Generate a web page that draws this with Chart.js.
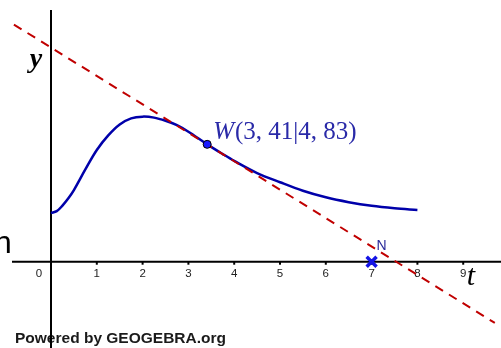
<!DOCTYPE html>
<html><head><meta charset="utf-8">
<script src="https://cdn.jsdelivr.net/npm/chart.js@4"></script>
<style>html,body{margin:0;padding:0;background:#fff}</style>
</head><body>
<canvas id="c" width="501" height="348"></canvas>
<script>
// curve f(t)
const curveT = [0, 0.125, 0.25, 0.375, 0.5, 0.75, 1, 1.25, 1.5, 1.75, 2, 2.25, 2.5, 2.75, 3, 3.41, 3.75, 4, 4.5, 5, 5.5, 6, 6.5, 7, 7.5, 8];
const curveY = [2.0, 2.08, 2.31, 2.6, 2.95, 3.8, 4.6, 5.2, 5.65, 5.9, 5.97, 5.93, 5.8, 5.62, 5.35, 4.83, 4.43, 4.15, 3.65, 3.27, 2.92, 2.65, 2.45, 2.3, 2.2, 2.13];
// tangent at W
const tangentT = [-0.81, 9.69];
const tangentY = [9.76, -2.52];
// labelled points
const pointW = {t: 3.41, y: 4.83, label: "W(3, 41|4, 83)"};
const pointN = {t: 7, y: 0, label: "N"};
// axis ticks
const xTicks = [0, 1, 2, 3, 4, 5, 6, 7, 8, 9];
const xRange = [-1.1135, 9.825];
const yRange = [-3.551, 10.77];

const toXY = (ts, ys) => ts.map((t, i) => ({x: t, y: ys[i]}));

const axesPlugin = {
  id: 'ggbAxes',
  beforeDatasetsDraw(chart) {
    const {ctx, scales: {x, y}} = chart;
    const x0 = x.getPixelForValue(0), y0 = y.getPixelForValue(0);
    ctx.save();
    // footer text
    ctx.fillStyle = '#1a1a1a';
    ctx.font = 'bold 15.5px "Liberation Sans", Arial, sans-serif';
    ctx.textBaseline = 'alphabetic';
    ctx.textAlign = 'left';
    ctx.fillText('Powered by GEOGEBRA.org', 15, 343);
    // clipped glyph on the left edge
    ctx.font = '32px "Liberation Sans", Arial, sans-serif';
    ctx.fillStyle = '#000';
    ctx.fillText('n', -6, 253);
    // axes
    ctx.strokeStyle = '#000';
    ctx.lineWidth = 2;
    ctx.beginPath();
    ctx.moveTo(12, y0); ctx.lineTo(501, y0);
    ctx.moveTo(x0, 10); ctx.lineTo(x0, 348);
    ctx.stroke();
    // ticks and labels
    ctx.font = '11.5px "Liberation Sans", Arial, sans-serif';
    ctx.fillStyle = '#222';
    ctx.textAlign = 'center';
    ctx.textBaseline = 'middle';
    ctx.lineWidth = 2;
    xTicks.forEach(v => {
      const px = x.getPixelForValue(v);
      if (v === 0) {
        ctx.fillText('0', px - 12, 274);
      } else {
        ctx.beginPath();
        ctx.moveTo(px, y0); ctx.lineTo(px, y0 + 3);
        ctx.stroke();
        ctx.fillText(String(v), px, 274);
      }
    });
    // axis names
    ctx.fillStyle = '#000';
    ctx.font = 'italic bold 28px "Liberation Serif", "DejaVu Serif", serif';
    ctx.textAlign = 'center';
    ctx.textBaseline = 'alphabetic';
    ctx.fillText('y', 36, 67);
    ctx.font = 'italic 30px "Liberation Serif", "DejaVu Serif", serif';
    ctx.fillText('t', 471, 285);
    ctx.restore();
  },
  afterDatasetsDraw(chart) {
    const {ctx, scales: {x, y}} = chart;
    ctx.save();
    // W label
    const wx = x.getPixelForValue(pointW.t) + 6, wy = y.getPixelForValue(pointW.y) - 5;
    ctx.fillStyle = '#2a2aa8';
    ctx.textBaseline = 'alphabetic';
    ctx.textAlign = 'left';
    ctx.font = 'italic 25px "Liberation Serif", serif';
    ctx.fillText('W', wx, wy);
    const ww = ctx.measureText('W').width;
    ctx.font = '25px "Liberation Serif", serif';
    ctx.fillText(pointW.label.slice(1), wx + ww + 1, wy);
    // N label
    ctx.font = '14px "Liberation Sans", Arial, sans-serif';
    ctx.fillStyle = '#2a2a9a';
    ctx.fillText(pointN.label, x.getPixelForValue(pointN.t) + 5, y.getPixelForValue(pointN.y) - 12);
    ctx.restore();
  }
};

new Chart(document.getElementById('c'), {
  type: 'scatter',
  data: {
    datasets: [
      {data: [{x: pointN.t, y: pointN.y}], pointStyle: 'crossRot', pointRadius: 7, borderColor: '#1414e6', borderWidth: 3.5, backgroundColor: '#1414e6'},
      {data: [{x: pointW.t, y: pointW.y}], pointStyle: 'circle', pointRadius: 4, backgroundColor: '#1a1aff', borderColor: '#000', borderWidth: 1},
      {data: toXY(tangentT, tangentY), showLine: true, borderColor: '#c00000', borderWidth: 2, borderDash: [9, 7], pointRadius: 0},
      {data: toXY(curveT, curveY), showLine: true, borderColor: '#0000aa', borderWidth: 2.5, tension: 0.35, pointRadius: 0}
    ]
  },
  options: {
    responsive: false,
    animation: false,
    layout: {padding: 0, autoPadding: false},
    plugins: {legend: {display: false}, tooltip: {enabled: false}},
    scales: {
      x: {type: 'linear', min: xRange[0], max: xRange[1], display: false},
      y: {type: 'linear', min: yRange[0], max: yRange[1], display: false}
    }
  },
  plugins: [axesPlugin]
});
</script>
</body></html>
